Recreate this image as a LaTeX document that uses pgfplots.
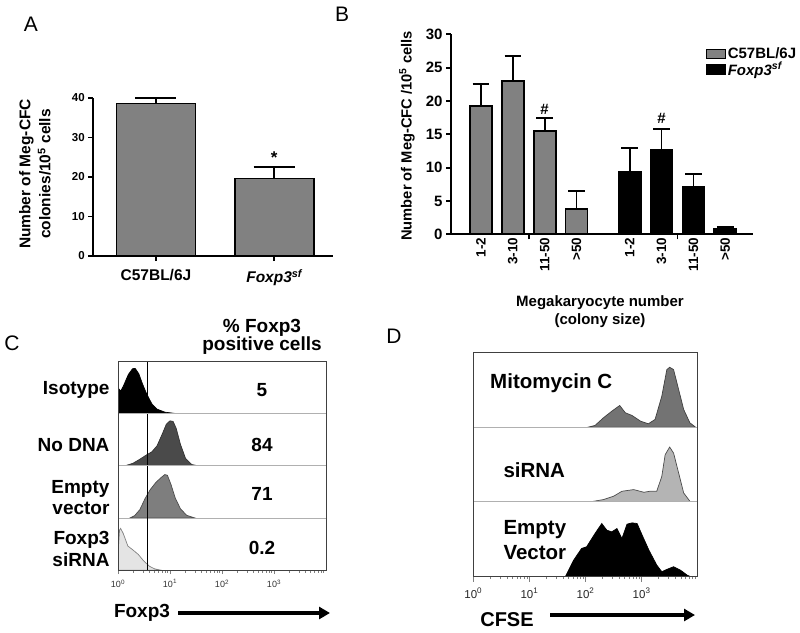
\documentclass[border=0pt]{standalone}
\usepackage{fontspec}
\setmainfont{Liberation Sans}
\usepackage{pgfplots}
\pgfplotsset{compat=1.18}
\usetikzlibrary{arrows.meta}

\definecolor{bargray}{HTML}{818181}
\definecolor{nodna}{HTML}{4A4A4A}
\definecolor{emptyc}{HTML}{7E7E7E}
\definecolor{sirnac}{HTML}{E4E4E4}
\definecolor{mitod}{HTML}{737373}
\definecolor{sirnad}{HTML}{B4B4B4}
\definecolor{sepgray}{HTML}{B0B0B0}

\newcommand{\fs}[2]{\fontsize{#1bp}{#2bp}\selectfont}

\pgfplotsset{
  gp/.style={
    scale only axis, anchor=south west,
    axis lines=left, axis line style={line width=1.8bp, -},
    tick align=outside, major tick length=5bp,
    every tick/.style={black, line width=1.8bp},
    ymin=0, clip=false,
    /pgf/number format/assume math mode=true,
  },
  flowrow/.style={
    scale only axis, anchor=south west,
    xmin=1, xmax=10000, ymin=0,
    axis line style={sepgray, line width=0.9bp},
    xtick=\empty, ytick=\empty,
  },
  flowbottom/.style={
    xtick={1,10,100,1000},
    xticklabels={10\textsuperscript{0},10\textsuperscript{1},10\textsuperscript{2},10\textsuperscript{3}},
    minor xtick={2,3,4,5,6,7,8,9,20,30,40,50,60,70,80,90,200,300,400,500,600,700,800,900,2000,3000,4000,5000,6000,7000,8000,9000},
    tick pos=left, tick align=outside,
    major tick length=4bp, minor tick length=2.5bp,
    every tick/.style={gray, line width=0.6bp},
  },
}

\begin{document}
\begin{tikzpicture}
\useasboundingbox (0,0) rectangle (800bp,-633bp);

% ---------- A ----------
\node[font=\fs{21}{21}] at (31bp,-24bp) {A};
\begin{axis}[gp, at={(93.3bp,-256bp)}, width=240bp, height=158bp,
  xmin=-0.53, xmax=1.5, ymax=40, ytick={0,10,20,30,40},
  xtick={0,1}, xticklabels={C57BL/6J, \textit{Foxp3\textsuperscript{sf}}},
  yticklabel style={font=\bfseries\fs{11.5}{13}},
  xticklabel style={font=\bfseries\fs{15.5}{18}, yshift=-5bp},
]
\addplot[ybar, bar shift=0pt, bar width=79bp, fill=bargray, draw=black, line width=1.8bp,
  error bars/.cd, y dir=plus, y explicit,
  error bar style={line width=1.8bp, black},
  error mark options={rotate=90, line width=1.8bp, mark size=20.5bp, black}]
  coordinates {(0,38.6) +- (0,1.4) (1,19.6) +- (0,2.9)};
\node[font=\bfseries\fs{17}{17}] at (axis cs:1,24.8) {*};
\end{axis}
\node[rotate=90, align=center, font=\bfseries\fs{15.5}{20}] at (35bp,-174bp)
  {Number of Meg-CFC\\colonies/10\textsuperscript{5} cells};

% ---------- B ----------
\node[font=\fs{21}{21}] at (342bp,-14bp) {B};
\begin{axis}[gp, at={(451bp,-234.3bp)}, width=302bp, height=200bp,
  xmin=0.06, xmax=9.54, ymax=30, ytick={0,5,...,30},
  xtick={2.5,7.17}, xticklabels={},
  extra x ticks={1,2,3,4,5.67,6.67,7.67,8.67},
  extra x tick labels={1-2,3-10,11-50,>50,1-2,3-10,11-50,>50},
  extra x tick style={major tick length=0pt,
    xticklabel style={rotate=90, anchor=east, font=\bfseries\fs{13.5}{14}}},
  yticklabel style={font=\bfseries\fs{15}{16}},
  legend style={at={(axis description cs:0.844,0.94)}, anchor=north west,
    draw=none, fill=none, font=\bfseries\fs{15}{16}, inner sep=0pt,
    row sep=-1bp, nodes={inner sep=1.5bp}},
  legend cell align=left,
]
\addplot[forget plot, ybar, bar shift=0pt, bar width=22bp, fill=bargray, draw=black, line width=1.8bp,
  error bars/.cd, y dir=plus, y explicit,
  error bar style={line width=1.8bp, black},
  error mark options={rotate=90, line width=1.8bp, mark size=8.3bp, black}]
  coordinates {(1,19.3) +- (0,3.3) (2,23.0) +- (0,3.8) (3,15.5) +- (0,1.9) (4,3.75) +- (0,2.8)};
\addplot[forget plot, ybar, bar shift=0pt, bar width=22bp, fill=black, draw=black, line width=1.8bp,
  error bars/.cd, y dir=plus, y explicit,
  error bar style={line width=1.8bp, black},
  error mark options={rotate=90, line width=1.8bp, mark size=8.3bp, black}]
  coordinates {(5.67,9.4) +- (0,3.6) (6.67,12.7) +- (0,3.1) (7.67,7.1) +- (0,1.9) (8.67,0.85) +- (0,0.3)};
\addlegendimage{legend image code/.code={\draw[fill=bargray, draw=black, line width=1.2bp] (0bp,-4.5bp) rectangle (19bp,4.5bp);}}
\addlegendentry{C57BL/6J}
\addlegendimage{legend image code/.code={\draw[fill=black, draw=black, line width=1.2bp] (0bp,-4.5bp) rectangle (19bp,4.5bp);}}
\addlegendentry{\textit{Foxp3\textsuperscript{sf}}}
\node[font=\bfseries\fs{15}{15}] at (axis cs:3,18.8) {\#};
\node[font=\bfseries\fs{15}{15}] at (axis cs:6.67,17.4) {\#};
\end{axis}
\node[rotate=90, font=\bfseries\fs{14.7}{16}] at (407bp,-136bp)
  {Number of Meg-CFC /10\textsuperscript{5} cells};
\node[align=center, font=\bfseries\fs{15}{18}] at (600bp,-312bp)
  {Megakaryocyte number\\(colony size)};

% ---------- C ----------
\node[font=\fs{21}{21}] at (12bp,-343bp) {C};
\node[align=center, font=\bfseries\fs{19}{18.5}] at (262bp,-337bp) {\% Foxp3\\positive cells};
\begin{axis}[xmode=log, flowrow, at={(118bp,-413.8bp)}, width=208bp, height=52.1bp, ymax=156]
\addplot[line width=0.7bp, fill=black, draw=black] coordinates {
  (1,78) (1.122,68) (1.259,82) (1.585,118) (1.905,135) (2.138,136) (2.512,120)
  (2.951,90) (3.548,60) (4.467,30) (5.623,14) (7.943,5) (12.59,1) (14.13,0)} \closedcycle;
\addplot[line width=1.3bp, black] coordinates {(3.75,0) (3.75,156)};
\end{axis}
\begin{axis}[xmode=log, flowrow, at={(118bp,-465.9bp)}, width=208bp, height=52.1bp, ymax=156]
\addplot[line width=0.7bp, fill=nodna, draw=black!80] coordinates {
  (1.349,0) (1.950,8) (2.630,20) (3.548,33) (4.467,42) (5.623,60) (7.079,95)
  (8.511,125) (10,135) (11.48,133) (13.18,112) (15.85,65) (19.95,22) (26.30,4) (35.48,0)} \closedcycle;
\addplot[line width=1.3bp, black] coordinates {(3.75,0) (3.75,156)};
\end{axis}
\begin{axis}[xmode=log, flowrow, at={(118bp,-518bp)}, width=208bp, height=52.1bp, ymax=156]
\addplot[line width=0.7bp, fill=emptyc, draw=black!70] coordinates {
  (1.698,0) (2.089,7) (2.630,25) (3.311,58) (4.169,85) (5.248,105) (6.607,120)
  (7.943,130) (8.913,128) (10.47,100) (12.59,60) (15.85,28) (20.89,8) (30.2,0)} \closedcycle;
\addplot[line width=1.3bp, black] coordinates {(3.75,0) (3.75,156)};
\end{axis}
\begin{axis}[xmode=log, flowrow, flowbottom, at={(118bp,-570.1bp)}, width=208bp, height=52.1bp, ymax=156,
  xticklabel style={font=\fs{9}{10}, text=gray!40!black, yshift=-2bp}]
\addplot[line width=0.7bp, fill=sirnac, draw=gray] coordinates {
  (1,50) (1.072,120) (1.122,125) (1.259,110) (1.549,72) (1.950,60) (2.455,47)
  (3.020,30) (3.981,12) (5.012,4) (6.607,0)} \closedcycle;
\addplot[line width=1.3bp, black] coordinates {(3.75,0) (3.75,156)};
\end{axis}
\draw[black!75, line width=0.9bp] (118bp,-361.7bp) rectangle (326bp,-570.1bp);
\node[anchor=east, align=right, font=\bfseries\fs{19}{21.5}] at (113bp,-390bp) {Isotype};
\node[anchor=east, align=right, font=\bfseries\fs{19}{21.5}] at (113bp,-445bp) {No DNA};
\node[anchor=east, align=right, font=\bfseries\fs{19}{21.5}] at (113bp,-497.5bp) {Empty\\vector};
\node[anchor=east, align=right, font=\bfseries\fs{19}{21.5}] at (113bp,-549bp) {Foxp3\\siRNA};
\node[font=\bfseries\fs{19}{21}] at (262bp,-390bp) {5};
\node[font=\bfseries\fs{19}{21}] at (262bp,-445bp) {84};
\node[font=\bfseries\fs{19}{21}] at (262bp,-494bp) {71};
\node[font=\bfseries\fs{19}{21}] at (262bp,-548bp) {0.2};
\node[font=\bfseries\fs{19}{19}] at (142bp,-613bp) {Foxp3};
\draw[line width=3.5bp, -{Triangle[length=11bp, width=12bp]}] (178bp,-613bp) -- (330bp,-613bp);

% ---------- D ----------
\node[font=\fs{21}{21}] at (394bp,-336bp) {D};
\begin{axis}[xmode=log, flowrow, at={(473.3bp,-427.1bp)}, width=224.4bp, height=74.8bp, ymax=225]
\addplot[line width=0.7bp, fill=mitod, draw=black!75] coordinates {
  (112.2,0) (147.9,5) (208.9,28) (295.1,48) (407.4,65) (512.9,43) (676.1,35)
  (955.0,18) (1318,10) (1738,23) (2291,93) (2818,173) (3162,180) (3715,173)
  (4571,113) (5623,53) (7244,13) (9120,0)} \closedcycle;
\end{axis}
\begin{axis}[xmode=log, flowrow, at={(473.3bp,-501.9bp)}, width=224.4bp, height=74.8bp, ymax=225]
\addplot[line width=0.7bp, fill=sirnad, draw=black!70] coordinates {
  (120.2,0) (208.9,7) (316.2,17) (446.7,32) (724.4,37) (1096,29) (1413,32)
  (1862,32) (2291,77) (2630,142) (3162,165) (3715,147) (4571,87) (5623,27) (7413,0)} \closedcycle;
\end{axis}
\begin{axis}[xmode=log, flowrow, flowbottom, at={(473.3bp,-576.7bp)}, width=224.4bp, height=74.8bp, ymax=225,
  major tick length=5bp, xticklabel style={font=\fs{11.5}{12}, text=gray!30!black, yshift=-3bp}]
\addplot[line width=0.7bp, fill=black, draw=black] coordinates {
  (43.65,0) (61.66,50) (85.11,85) (104.7,90) (147.9,130) (195.0,160) (239.9,140)
  (295.1,135) (363.1,145) (446.7,115) (549.5,158) (676.1,162) (831.8,160)
  (1023,125) (1349,80) (1862,35) (2291,15) (2818,22) (3715,30) (4898,20)
  (6457,5) (7413,0)} \closedcycle;
\end{axis}
\draw[black!75, line width=0.9bp] (473.3bp,-352.3bp) rectangle (697.7bp,-576.7bp);
\node[anchor=west, font=\bfseries\fs{20.5}{22}] at (486.7bp,-383bp) {Mitomycin C};
\node[anchor=west, font=\bfseries\fs{20.5}{22}] at (500bp,-470bp) {siRNA};
\node[anchor=west, align=left, font=\bfseries\fs{20.5}{25}] at (500bp,-540.5bp) {Empty\\Vector};
\node[font=\bfseries\fs{20}{20}] at (507bp,-620bp) {CFSE};
\draw[line width=3.5bp, -{Triangle[length=11bp, width=12bp]}] (550bp,-615bp) -- (695bp,-615bp);
\end{tikzpicture}
\end{document}
